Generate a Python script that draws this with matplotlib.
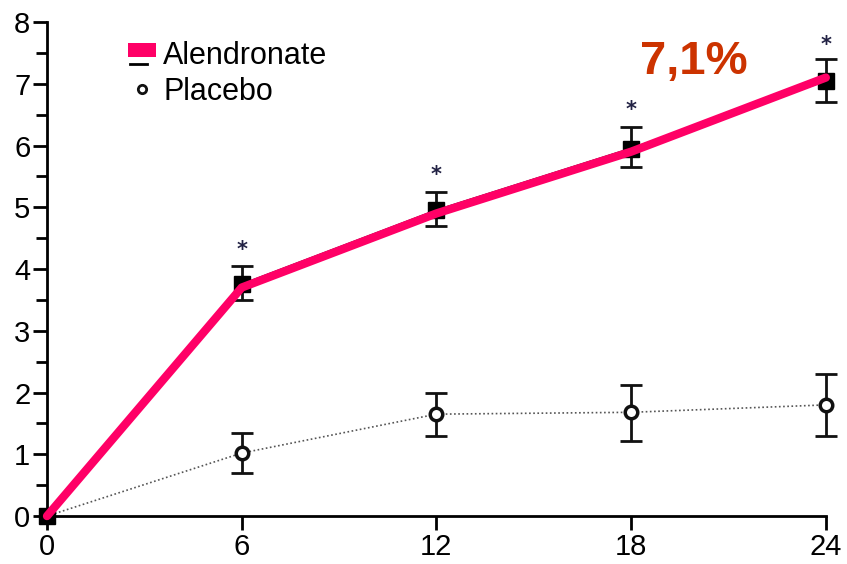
import matplotlib
matplotlib.use("Agg")
import matplotlib.pyplot as plt
from matplotlib.lines import Line2D
from matplotlib.patches import Patch, Rectangle
from matplotlib.legend_handler import HandlerBase

plt.rcParams['font.family'] = ['Liberation Sans', 'DejaVu Sans']

months = [0, 6, 12, 18, 24]
x_ticks = [0, 6, 12, 18, 24]
y_ticks = [0, 1, 2, 3, 4, 5, 6, 7, 8]

alen_mean = [0, 3.75, 4.95, 5.95, 7.05]
alen_lo = [0, 3.5, 4.7, 5.65, 6.7]
alen_hi = [0, 4.05, 5.25, 6.3, 7.4]
alen_trend = [0, 3.7, 4.9, 5.9, 7.1]
star_y = [4.31, 5.52, 6.57, 7.63]

plac_mean = [0, 1.02, 1.65, 1.68, 1.8]
plac_lo = [0, 0.7, 1.3, 1.22, 1.3]
plac_hi = [0, 1.35, 2.0, 2.12, 2.3]

final_label = "7,1%"
PINK = '#FF0066'

fig = plt.figure(figsize=(8.47, 5.64), dpi=100)
ax = fig.add_axes([0.0555, 0.085, 0.9195, 0.876])


def draw_errorbars(mean, lo, hi):
    eb = ax.errorbar(months[1:], mean[1:],
                     yerr=[[m - l for m, l in zip(mean[1:], lo[1:])],
                           [h - m for m, h in zip(mean[1:], hi[1:])]],
                     fmt='none', ecolor='#111111', elinewidth=2, capsize=8, capthick=2,
                     zorder=3)
    for caps in eb.lines[1]:
        caps.set_clip_on(False)
    for coll in eb.lines[2]:
        coll.set_clip_on(False)


# placebo: dotted line, hollow circles, capped error bars
ax.plot(months, plac_mean, color='#555555', lw=1.2, ls=(0, (1, 1.5)), zorder=2)
draw_errorbars(plac_mean, plac_lo, plac_hi)
ax.plot(months, plac_mean, ls='none', marker='o', ms=9, mfc='white', mec='#111111',
        mew=2.5, zorder=4, clip_on=False)

# alendronate: black line with square markers and error bars
ax.plot(months, alen_mean, color='black', lw=1.5, zorder=3)
draw_errorbars(alen_mean, alen_lo, alen_hi)
ax.plot(months, alen_mean, ls='none', marker='s', ms=11, color='black', zorder=4, clip_on=False)

# highlighted trend
ax.plot(months, alen_trend, color=PINK, lw=6, solid_capstyle='round', zorder=5, clip_on=False)

# significance marks
for xm, ys in zip(months[1:], star_y):
    ax.text(xm, ys, '*', ha='center', va='center', fontsize=15, color='#222244',
            fontfamily='DejaVu Sans', fontweight='bold')

ax.text(19.93, 7.35, final_label, ha='center', va='center', fontsize=34, fontweight='bold',
        color='#CC3300')

ax.set_xlim(0, 24)
ax.set_ylim(0, 8)
ax.set_xticks(x_ticks)
ax.set_yticks(y_ticks)
ax.set_yticks([v + 0.5 for v in y_ticks[:-1]], minor=True)
ax.tick_params(axis='both', labelsize=21, width=2, length=10, direction='out', pad=2)
ax.tick_params(axis='y', which='minor', width=2, length=8)
for side in ('top', 'right'):
    ax.spines[side].set_visible(False)
for side in ('left', 'bottom'):
    ax.spines[side].set_linewidth(2)


class PatchWithDash(HandlerBase):
    """Pink block with a short black dash beneath it."""
    def create_artists(self, legend, orig_handle, xdescent, ydescent, width, height,
                       fontsize, trans):
        rect = Rectangle((-xdescent, -ydescent + height * 0.3), width, height * 0.65,
                         facecolor=PINK, edgecolor='none', transform=trans)
        dash = Line2D([-xdescent + width * 0.08, -xdescent + width * 0.7],
                      [-ydescent - height * 0.02] * 2, color='black', lw=2, transform=trans)
        return [dash, rect]


handles = [Patch(facecolor=PINK, edgecolor='none'),
           Line2D([], [], ls='none', marker='o', ms=6, mfc='white', mec='#111111', mew=2)]
leg = ax.legend(handles, ['Alendronate', 'Placebo'], loc='upper left',
                bbox_to_anchor=(0.069, 1.018), frameon=False, fontsize=22,
                handlelength=0.9, handletextpad=0.25, labelspacing=0.2,
                handler_map={Patch: PatchWithDash()})

fig.savefig('out.png', dpi=100)
